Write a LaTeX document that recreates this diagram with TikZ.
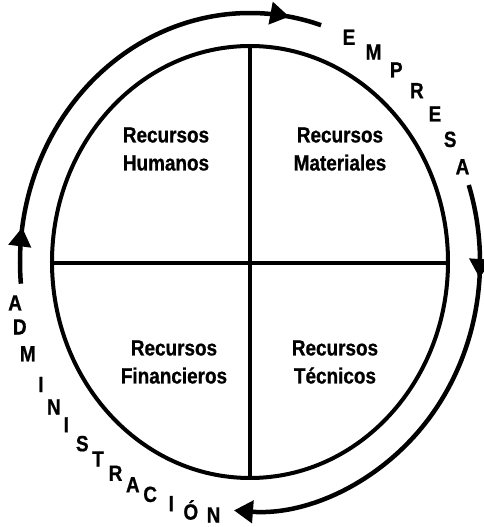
\documentclass[tikz,border=0pt]{standalone}
\usepackage{fontspec}
\usepackage{tikz}
\usetikzlibrary{arrows.meta,decorations.markings}
\newfontfamily\rotulo[FakeStretch=0.86, BoldFeatures={FakeBold=0.8}]{Liberation Sans}

\begin{document}
\begin{tikzpicture}[x=1pt,y=1pt,
    punta/.style={-{Triangle[length=19pt,width=22pt]}},
    anillo/.style={line width=4.5pt},
    recurso/.style={font=\rotulo\bfseries\fontsize{22}{28}\selectfont, align=center},
    letra/.style={font=\rotulo\bfseries\fontsize{22}{24}\selectfont, inner sep=0pt}]
    \useasboundingbox (-250,-265) rectangle (233,262);
    \coordinate (c) at (0,0);
    % circulo de recursos
    \draw[line width=4pt] (c) ellipse [x radius=198, y radius=216];
    \draw[line width=3.5pt] (0,216) -- (0,-216);
    \draw[line width=3.5pt] (-198,-1) -- (198,-1);
    \node[recurso] (humanos) at (-84,113) {Recursos\\Humanos};
    \node[recurso] (materiales) at (90,113) {Recursos\\Materiales};
    \node[recurso] (financieros) at (-76,-100) {Recursos\\Financieros};
    \node[recurso] (tecnicos) at (85,-100) {Recursos\\T\'ecnicos};
    % flechas exteriores
    \draw[anillo, postaction={decorate}, decoration={markings,
        mark=at position 0.12 with {\arrow{Triangle[length=19pt,width=22pt]}},
        mark=at position 0.93 with {\arrow{Triangle[length=19pt,width=22pt]}}}]
        (185:230 and 249) arc[start angle=185, end angle=72, x radius=230, y radius=249];
    \draw[anillo, punta, postaction={decorate}, decoration={markings,
        mark=at position 0.2 with {\arrow{Triangle[length=19pt,width=22pt]}}}]
        (18:230 and 249) arc[start angle=18, end angle=-94, x radius=230, y radius=249];
    % letras
    \foreach \ch/\ang in {E/64.5, M/57.5, P/50.5, R/43.5, E/36.5, S/29.5, A/22.5}
        \node[letra] at (\ang:230 and 249) {\ch};
    \foreach \ch/\ang in {A/189.2, D/194.7, M/201, I/208.6, N/214.5, I/219.5, S/225.2,
        T/230.3, R/235.6, A/240.5, C/245.2, I/250.7, \'O/255.6, N/261.2}
        \node[letra] at (\ang:238 and 256) {\ch};
\end{tikzpicture}
\end{document}
